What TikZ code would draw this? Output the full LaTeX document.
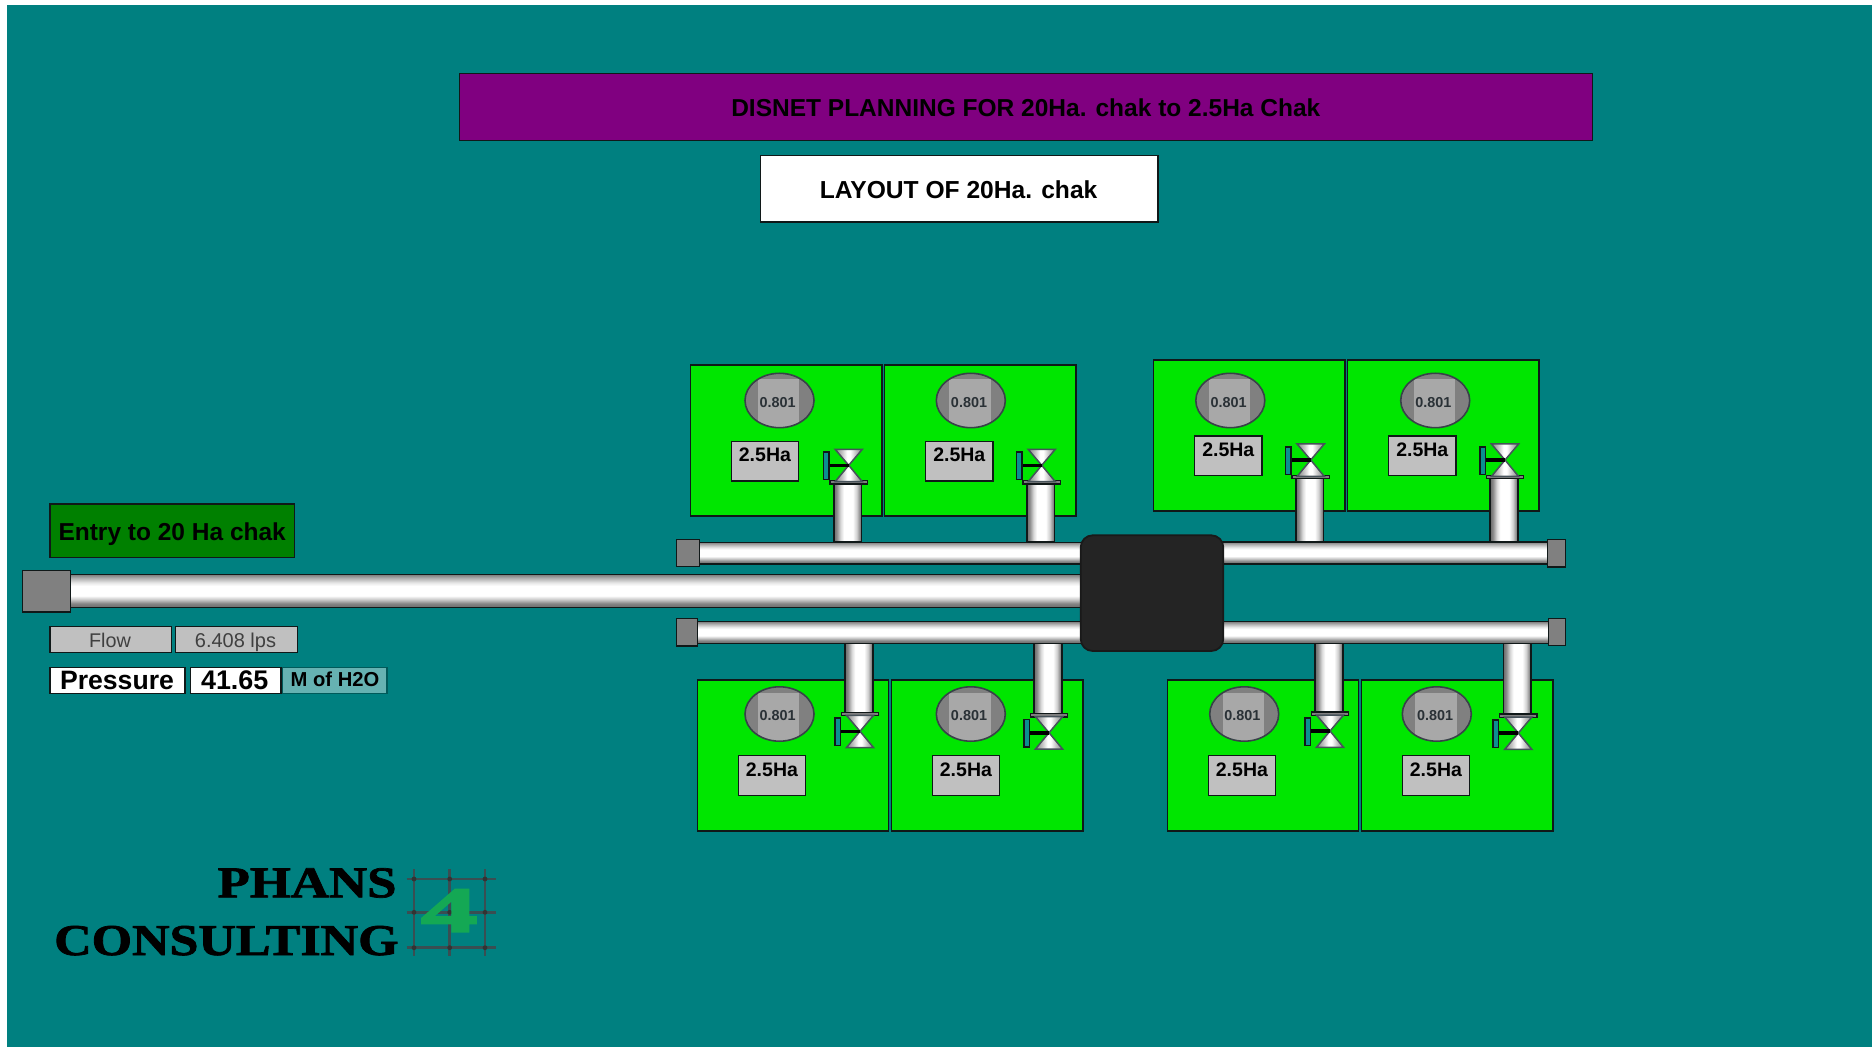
\documentclass[tikz,border=0pt]{standalone}
\usepackage{fontspec}
\setmainfont{Liberation Sans}
\newfontfamily\logofont[BoldFeatures={FakeBold=1.6}]{Liberation Serif}
\newfontfamily\fourfont[BoldFeatures={FakeBold=3}]{Liberation Serif}
\definecolor{bgteal}{HTML}{008080}
\definecolor{chakgreen}{HTML}{00E600}
\definecolor{entrygreen}{HTML}{008000}
\definecolor{titlepurple}{HTML}{800080}
\definecolor{silverbox}{HTML}{C0C0C0}
\definecolor{capgray}{HTML}{808080}
\definecolor{innergray}{HTML}{A8A8A8}
\definecolor{unitteal}{HTML}{66B2B2}
\definecolor{darkline}{HTML}{101818}
\definecolor{gridgray}{HTML}{46525A}
\definecolor{logoline}{HTML}{3A4E52}
\definecolor{logogreen}{HTML}{14A854}
\definecolor{handleteal}{HTML}{0A9090}
% TikZ maps a path's extent onto the range 25bp..75bp of a shading
\pgfdeclarehorizontalshading{pipeh}{100bp}{rgb(0bp)=(0.42,0.42,0.42);rgb(25bp)=(0.42,0.42,0.42);rgb(30bp)=(0.55,0.55,0.55);rgb(37bp)=(0.85,0.85,0.85);rgb(43bp)=(1,1,1);rgb(59bp)=(1,1,1);rgb(66bp)=(0.82,0.82,0.82);rgb(71.5bp)=(0.55,0.55,0.55);rgb(75bp)=(0.42,0.42,0.42);rgb(100bp)=(0.42,0.42,0.42)}
\pgfdeclarehorizontalshading{valveh}{100bp}{rgb(0bp)=(0.5,0.5,0.5);rgb(25bp)=(0.5,0.5,0.5);rgb(38bp)=(0.78,0.78,0.78);rgb(47bp)=(1,1,1);rgb(53bp)=(1,1,1);rgb(62bp)=(0.78,0.78,0.78);rgb(75bp)=(0.5,0.5,0.5);rgb(100bp)=(0.5,0.5,0.5)}
\pgfdeclareverticalshading{pipev}{100bp}{rgb(0bp)=(0.42,0.42,0.42);rgb(25bp)=(0.42,0.42,0.42);rgb(31bp)=(0.52,0.52,0.52);rgb(37bp)=(0.78,0.78,0.78);rgb(43bp)=(1,1,1);rgb(58bp)=(1,1,1);rgb(63bp)=(0.9,0.9,0.9);rgb(70bp)=(0.68,0.68,0.68);rgb(75bp)=(0.5,0.5,0.5);rgb(100bp)=(0.5,0.5,0.5)}
\tikzset{
  outline/.style={draw=darkline,line width=0.75pt},
  pipeV/.style={outline,shading=pipeh,shading angle=0},
  pipeH/.style={outline,shading=pipev,shading angle=0},
  capbox/.style={outline,fill=capgray},
  chakbox/.style={outline,fill=chakgreen},
  silver/.style={outline,fill=silverbox},
  txt/.style={anchor=base,inner sep=0pt,outer sep=0pt},
  valvetri/.style={draw=gridgray,line width=0.75pt,shading=valveh,shading angle=0},
}
\newcount\chakn
% #1 box left, #2 box top, #3 ellipse cx, #4 ellipse cy, #5 label left, #6 label top,
% #7 valve x, #8 valve y, #9 1=pipe is below the valve, 0=pipe is above the valve
\newcommand{\chakunit}[9]{%
  \global\advance\chakn by 1
  \draw[chakbox] (#1,#2) rectangle ++(191.3,151);
  \begin{scope}
    \clip (#3,#4) ellipse [x radius=34.5,y radius=27.2];
    \fill[capgray] (#3-35,#4-28) rectangle (#3+35,#4+28);
    \fill[innergray] (#3-21.5,#4-21) rectangle (#3+19.8,#4+28);
  \end{scope}
  \draw[draw=gridgray!80!black,line width=0.8pt] (#3,#4) ellipse [x radius=34.5,y radius=27.2];
  \node[txt,font=\bfseries\fontsize{7.2pt}{8pt}\selectfont,text=gridgray!60!black] (flow\the\chakn) at (#3-1.8,#4+6.8) {0.801};
  \draw[silver] (#5,#6) rectangle ++(67.2,39.7);
  \node[txt,font=\bfseries\fontsize{9.75pt}{11pt}\selectfont] (area\the\chakn) at (#5+33.6,#6+20.7) {2.5Ha};
  \ifnum#9=1
    \shade[pipeV] (#7-14.8,#8+18.7) rectangle (#7+12.9,542);
    \draw[capbox] (#7-18.7,#8+15.4) rectangle (#7+18.6,#8+18.7);
  \else
    \shade[pipeV] (#7-14.8,643.3) rectangle (#7+12.9,#8-19);
    \draw[capbox] (#7-18.7,#8-19) rectangle (#7+18.6,#8-15.6);
  \fi
  \shade[valvetri] (#7-13.6,#8-16) -- (#7+13.6,#8-16) -- (#7,#8) -- cycle;
  \shade[valvetri] (#7-13.6,#8+16.4) -- (#7+13.6,#8+16.4) -- (#7,#8) -- cycle;
  \fill[black] (#7-20,#8-1.6) rectangle (#7,#8+1.8);
  \draw[outline,fill=handleteal] (#7-25.2,#8-13.2) rectangle (#7-19.7,#8+14.4);
}
\begin{document}
\begin{tikzpicture}[x=0.5pt,y=-0.5pt]
\useasboundingbox (0,0) rectangle (1872,1047);
\fill[white] (0,0) rectangle (1872,1047);
\fill[bgteal] (7,5) rectangle (1872,1047);

% title boxes
\draw[outline,fill=titlepurple] (459.5,73.7) rectangle (1592.7,140.5);
\node[txt,font=\bfseries\fontsize{12.25pt}{14pt}\selectfont] (title) at (1025.8,117) {DISNET PLANNING FOR 20Ha. chak to 2.5Ha Chak};
\draw[outline,fill=white] (760.4,155.7) rectangle (1157.8,222);
\node[txt,font=\bfseries\fontsize{12.3pt}{15pt}\selectfont] (layout) at (958.6,198.5) {LAYOUT OF 20Ha. chak};

% chak plots
\chakunit{690.7}{365}{779.5}{400.5}{731.3}{441.3}{848.7}{465.3}{1}
\chakunit{884.7}{365}{970.8}{400.5}{925.7}{441.3}{1041.7}{465.3}{1}
\chakunit{1153.7}{360}{1230.3}{400.5}{1194.7}{436}{1310.7}{460}{1}
\chakunit{1347.7}{360}{1435.2}{400.5}{1388.7}{436}{1505}{460}{1}
\chakunit{697.3}{680}{779.5}{714}{738.3}{755.7}{860}{731.3}{0}
\chakunit{891.7}{680}{970.8}{714}{932.3}{755.7}{1049}{732.7}{0}
\chakunit{1167.3}{680}{1244.2}{714}{1208.3}{755.7}{1330}{731}{0}
\chakunit{1361.7}{680}{1436.8}{714}{1402.3}{755.7}{1518.3}{733}{0}

% header pipes
\shade[pipeH] (699,542.3) rectangle (1085,564);
\draw[capbox] (676.7,539.3) rectangle (699.3,566.7);
\shade[pipeH] (1219,542) rectangle (1547.3,564);
\draw[capbox] (1547.3,539.7) rectangle (1565.3,567);
\shade[pipeH] (697.7,621.7) rectangle (1085,643.3);
\draw[capbox] (676.7,618.3) rectangle (697.7,646);
\shade[pipeH] (1219,621.7) rectangle (1548.7,643.3);
\draw[capbox] (1548.7,618.7) rectangle (1565.3,645.7);

% main pipe
\shade[pipeH] (70.7,574.7) rectangle (1085,607.5);
\draw[capbox] (22.7,570.7) rectangle (70.7,612);

% junction block
\draw[draw=black!90,line width=0.9pt,fill=black!86,rounded corners=6pt] (1080.7,535.3) rectangle (1223.3,651);

% info boxes
\draw[outline,fill=entrygreen] (50,504) rectangle (294.7,557.3);
\node[txt,font=\bfseries\fontsize{12.25pt}{14pt}\selectfont] (entry) at (172.2,540) {Entry to 20 Ha chak};
\draw[silver] (50,626.7) rectangle (171.3,652.7);
\node[txt,font=\fontsize{9.9pt}{11pt}\selectfont,text=black!75] (flowlabel) at (110,647.3) {Flow};
\draw[silver] (175.7,626.7) rectangle (297.3,652.7);
\node[txt,font=\fontsize{10pt}{11pt}\selectfont,text=black!75] (flowvalue) at (235.5,647.3) {6.408 lps};
\draw[outline,fill=white] (50,667.3) rectangle (185,693.3);
\node[txt,font=\bfseries\fontsize{13.3pt}{15pt}\selectfont] (pressurelabel) at (117,689.3) {Pressure};
\draw[outline,fill=white] (190.7,667.3) rectangle (281,693.3);
\node[txt,font=\bfseries\fontsize{13.45pt}{15pt}\selectfont] (pressurevalue) at (234.7,689.3) {41.65};
\draw[draw=bgteal!70!black,line width=0.75pt,fill=unitteal] (282.3,667.6) rectangle (387,693.6);
\node[txt,font=\bfseries\fontsize{10.1pt}{12pt}\selectfont] (pressureunit) at (335,686.7) {M of H2O};

% logo
\foreach \gx in {414,449.7,485} \draw[logoline,line width=1.3pt] (\gx,869.3) -- (\gx,956);
\foreach \gy in {879,912.3,947.7} \draw[logoline,line width=1.3pt] (406.7,\gy) -- (495.7,\gy);
\foreach \gx in {414,449.7,485} \foreach \gy in {879,912.3,947.7} \fill[black!80] (\gx,\gy) circle [radius=2.4];
\node[anchor=base east,inner sep=0pt,xscale=1.2,font=\logofont\bfseries\fontsize{22pt}{24pt}\selectfont] (phans) at (397,897.3) {PHANS};
\node[anchor=base east,inner sep=0pt,xscale=1.18,font=\logofont\bfseries\fontsize{22pt}{24pt}\selectfont] (consulting) at (399,955) {CONSULTING};
\node[anchor=base,inner sep=0pt,xscale=1.75,text=logogreen,font=\fourfont\bfseries\fontsize{32pt}{34pt}\selectfont] (logofour) at (449.2,931.7) {4};
\end{tikzpicture}
\end{document}
